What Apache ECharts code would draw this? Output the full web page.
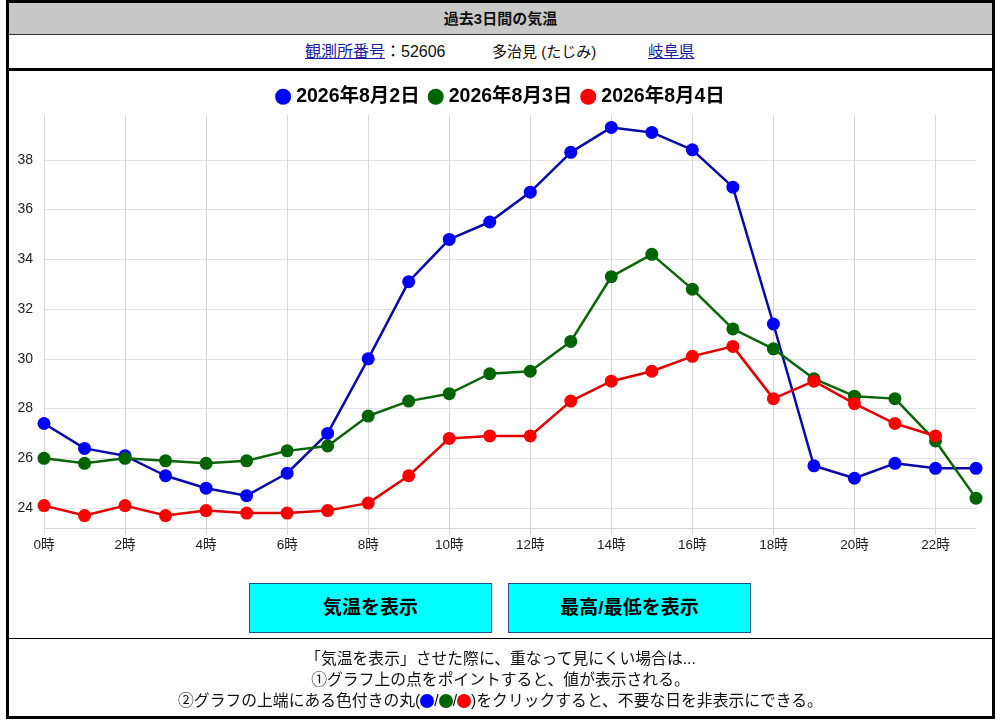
<!DOCTYPE html>
<html><head><meta charset="utf-8">
<script src="https://cdn.jsdelivr.net/npm/echarts@6/dist/echarts.min.js"></script>
<style>
html,body{margin:0;padding:0;background:#fff;width:1000px;height:720px;overflow:hidden;}
body{font-family:"Liberation Sans","Noto Sans CJK JP",sans-serif;color:#111;}
#frame{position:absolute;left:6px;top:0;width:989px;height:719px;border:3px solid #000;box-sizing:border-box;}
#hdr{position:absolute;left:9px;top:3px;width:983px;height:31px;background:#c8c8c8;border-bottom:1px solid #333;text-align:center;font-weight:bold;font-size:15px;line-height:31px;}
#info{position:absolute;left:9px;top:35px;width:983px;height:33px;font-size:15px;line-height:33px;}
#info .it{position:absolute;top:0;white-space:nowrap;}
#info a{color:#1a1aa6;text-decoration:underline;}
#thick{position:absolute;left:9px;top:68px;width:983px;height:3px;background:#000;}
.btn{position:absolute;top:583px;width:243px;height:50px;background:#00ffff;border:1px solid #1f4f9a;box-sizing:border-box;text-align:center;line-height:48px;font-weight:bold;font-size:19px;color:#000;}
#sep{position:absolute;left:9px;top:638px;width:983px;height:1px;background:#000;}
#notes{position:absolute;left:9px;top:648px;width:983px;text-align:center;font-size:15.8px;line-height:21px;color:#111;}
.dot{display:inline-block;width:14px;height:14px;border-radius:50%;vertical-align:-2px;}
#chart{position:absolute;left:0;top:0;width:1000px;height:720px;}
</style></head>
<body>
<div id="frame"></div>
<div id="hdr">過去3日間の気温</div>
<div id="info">
  <span class="it" style="left:296px;font-size:16px"><a>観測所番号</a>：52606</span>
  <span class="it" style="left:483px">多治見 (たじみ)</span>
  <span class="it" style="left:639px;font-size:15.5px"><a>岐阜県</a></span>
</div>
<div id="thick"></div>
<div id="chart"></div>
<div class="btn" style="left:249px">気温を表示</div>
<div class="btn" style="left:508px">最高/最低を表示</div>
<div id="sep"></div>
<div id="notes">「気温を表示」させた際に、重なって見にくい場合は...<br>①グラフ上の点をポイントすると、値が表示される。<br>②グラフの上端にある色付きの丸(<span class="dot" style="background:#0000ff"></span>/<span class="dot" style="background:#006400"></span>/<span class="dot" style="background:#ff0000"></span>)をクリックすると、不要な日を非表示にできる。</div>
<script>
const hours = ['0時','1時','2時','3時','4時','5時','6時','7時','8時','9時','10時','11時','12時','13時','14時','15時','16時','17時','18時','19時','20時','21時','22時','23時'];
const seriesNames = ['2026年8月2日','2026年8月3日','2026年8月4日'];
const aug2 = [27.4,26.4,26.1,25.3,24.8,24.5,25.4,27.0,30.0,33.1,34.8,35.5,36.7,38.3,39.3,39.1,38.4,36.9,31.4,25.7,25.2,25.8,25.6,25.6];
const aug3 = [26.0,25.8,26.0,25.9,25.8,25.9,26.3,26.5,27.7,28.3,28.6,29.4,29.5,30.7,33.3,34.2,32.8,31.2,30.4,29.2,28.5,28.4,26.7,24.4];
const aug4 = [24.1,23.7,24.1,23.7,23.9,23.8,23.8,23.9,24.2,25.3,26.8,26.9,26.9,28.3,29.1,29.5,30.1,30.5,28.4,29.1,28.2,27.4,26.9];
const yTickLabels = [24,26,28,30,32,34,36,38];

const chart = echarts.init(document.getElementById('chart'), null, {renderer:'canvas'});
const lineColors = ['#0a0aa8','#0a640a','#e00000'];
const dotColors = ['#0000ff','#006400','#ff0000'];
const dataSets = [aug2, aug3, aug4];
const gridLineColors = ['#d6d6d6'].concat(yTickLabels.map(()=>'#e2e2e2')).concat(['rgba(0,0,0,0)']);
chart.setOption({
  animation:false,
  backgroundColor:'transparent',
  textStyle:{fontFamily:'"Liberation Sans","Noto Sans CJK JP",sans-serif'},
  legend:{
    top:82, left:'center', icon:'circle', itemWidth:16, itemHeight:16, itemGap:8,
    textStyle:{fontSize:19.5, fontWeight:'bold', color:'#000', fontFamily:'"Liberation Sans","Noto Sans CJK JP",sans-serif'},
    data:seriesNames
  },
  grid:{left:44, right:24, top:115, bottom:192},
  xAxis:{
    type:'category', data:hours, boundaryGap:false,
    axisLine:{show:false},
    axisTick:{show:true, interval:1, length:7, lineStyle:{color:'#d6d6d6'}},
    axisLabel:{interval:1, fontSize:13.5, color:'#222', margin:11},
    splitLine:{show:true, interval:1, lineStyle:{color:'#d6d6d6', width:1}}
  },
  yAxis:{
    type:'value', min:23.2, max:39.8, splitNumber:8,
    axisLine:{show:false}, axisTick:{show:false},
    axisLabel:{fontSize:14, color:'#222', margin:11,
      formatter:function(v){ return yTickLabels.indexOf(Math.round(v*10)/10) >= 0 ? String(Math.round(v)) : ''; }},
    splitLine:{show:true, lineStyle:{color:gridLineColors, width:1}}
  },
  series: dataSets.map((d,i)=>({
    name:seriesNames[i], type:'line', data:d,
    symbol:'circle', symbolSize:13, showAllSymbol:true,
    lineStyle:{color:lineColors[i], width:2.5},
    itemStyle:{color:dotColors[i], borderColor:dotColors[i], borderWidth:0},
    z:2+i
  }))
});
</script>
</body></html>
